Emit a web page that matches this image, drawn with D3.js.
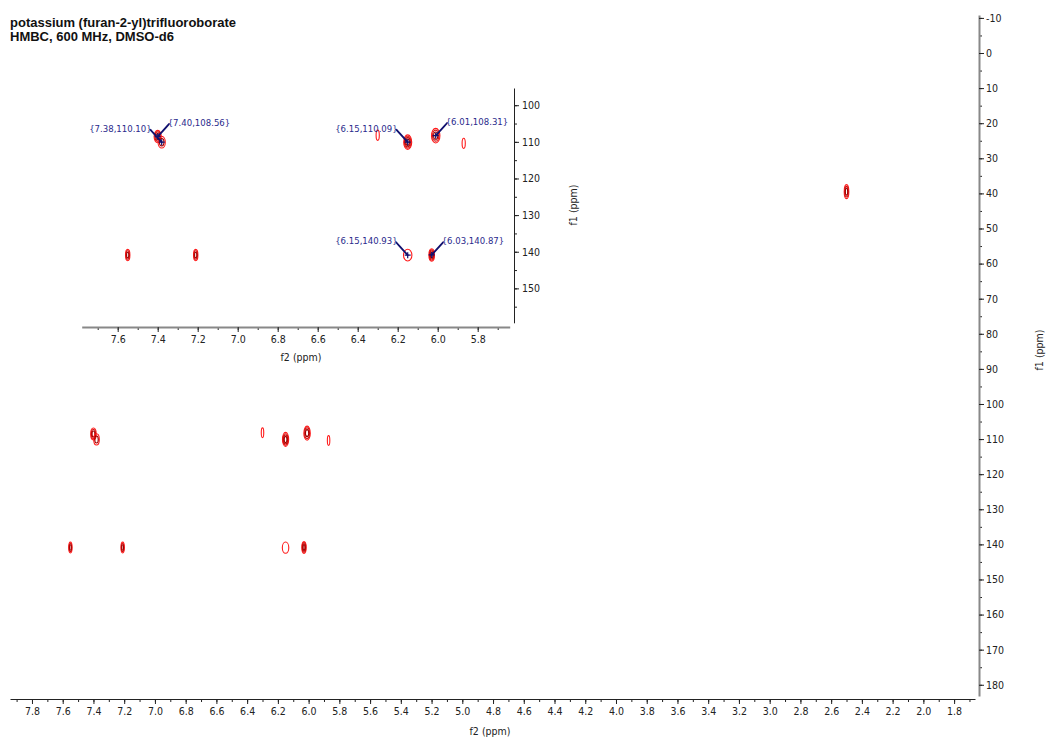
<!DOCTYPE html>
<html>
<head>
<meta charset="utf-8">
<script src="https://cdn.jsdelivr.net/npm/d3@7"></script>
<style>
  body { margin: 0; background: #fff; }
  svg text { font-family: "DejaVu Sans Condensed", "DejaVu Sans", sans-serif; }
</style>
</head>
<body>
<svg id="chart" width="1047" height="738"></svg>
<script>
// ---- spectrum data: HMBC cross peaks (f2 = 1H ppm, f1 = 13C ppm) ----
const peakF2      = [7.40, 7.38, 6.30, 6.15, 6.01, 5.87, 7.55, 7.21, 6.15, 6.03, 2.50];
const peakF1      = [108.56, 110.10, 108.2, 110.09, 108.31, 110.4, 140.9, 140.9, 140.93, 140.87, 39.5];
const peakWidthF2 = [0.036, 0.036, 0.016, 0.040, 0.042, 0.016, 0.022, 0.022, 0.042, 0.028, 0.030];
const peakWidthF1 = [3.4, 3.2, 2.8, 4.0, 4.0, 2.8, 3.1, 3.1, 3.2, 3.4, 4.0];
const peakLevels  = [3, 2, 1, 4, 3, 1, 3, 3, 1, 4, 3];

// picked peaks shown with labels in the expansion
const annotF2   = [7.38, 7.40, 6.15, 6.01, 6.15, 6.03];
const annotF1   = [110.10, 108.56, 110.09, 108.31, 140.93, 140.87];
const annotText = ["{7.38,110.10}", "{7.40,108.56}", "{6.15,110.09}", "{6.01,108.31}", "{6.15,140.93}", "{6.03,140.87}"];

// axis ticks
const mainF2Ticks  = [7.8, 7.6, 7.4, 7.2, 7.0, 6.8, 6.6, 6.4, 6.2, 6.0, 5.8, 5.6, 5.4, 5.2, 5.0, 4.8, 4.6, 4.4, 4.2, 4.0, 3.8, 3.6, 3.4, 3.2, 3.0, 2.8, 2.6, 2.4, 2.2, 2.0, 1.8];
const mainF1Ticks  = [-10, 0, 10, 20, 30, 40, 50, 60, 70, 80, 90, 100, 110, 120, 130, 140, 150, 160, 170, 180];
const insetF2Ticks = [7.6, 7.4, 7.2, 7.0, 6.8, 6.6, 6.4, 6.2, 6.0, 5.8];
const insetF1Ticks = [100, 110, 120, 130, 140, 150];

const titleLines = ["potassium (furan-2-yl)trifluoroborate", "HMBC, 600 MHz, DMSO-d6"];

const svg = d3.select("#chart");
const navy = "#10106e";

// ---- title ----
svg.append("g").selectAll("text").data(titleLines).join("text")
  .attr("x", 10).attr("y", (d, i) => 26.5 + i * 14.5)
  .style("font-family", "'Liberation Sans', Arial, sans-serif")
  .style("font-weight", "bold").style("font-size", "13px").attr("fill", "#111")
  .text(d => d);

// ---- scales ----
const xMain = d3.scaleLinear().domain([7.943, 1.664]).range([10, 975]);
const yMain = d3.scaleLinear().domain([-10.83, 183.2]).range([15, 696]);
const xIn   = d3.scaleLinear().domain([7.78, 5.64]).range([81.7, 509.7]);
const yIn   = d3.scaleLinear().domain([95.3, 159.4]).range([88, 322.8]);

function minorTicks(scale, step) {
  const [a, b] = d3.extent(scale.domain());
  const out = [];
  for (let v = Math.ceil(a / step) * step; v <= b + 1e-9; v += step) out.push(+v.toFixed(4));
  return out;
}

function styleAxis(g, lineColor, lineWidth) {
  g.select(".domain").attr("stroke", lineColor).attr("stroke-width", lineWidth);
  g.selectAll(".tick line").attr("stroke", "#222");
  g.selectAll(".tick text").attr("fill", "#222").style("font-size", "10.5px");
}

// ---- contours ----
const peaks = peakF2.map((f2, i) => ({ f2, f1: peakF1[i], w: peakWidthF2[i], h: peakWidthF1[i], n: peakLevels[i] }));
const ringColor = d3.scaleLinear().domain([0, 1]).range(["#ff1a1a", "#a00000"]);

function drawPeaks(g, xs, ys) {
  peaks.forEach(p => {
    const cx = xs(p.f2), cy = ys(p.f1);
    const rx = Math.abs(xs(p.f2 + p.w / 2) - cx);
    const ry = Math.abs(ys(p.f1 + p.h / 2) - cy);
    for (let k = 0; k < p.n; k++) {
      const s = 1 - k / p.n * 0.75;
      g.append("ellipse")
        .attr("cx", cx).attr("cy", cy)
        .attr("rx", Math.max(0.6, rx * s)).attr("ry", ry * s)
        .attr("fill", "none")
        .attr("stroke", ringColor(p.n > 1 ? k / (p.n - 1) : 0))
        .attr("stroke-width", 1.1);
    }
  });
}

// ---- main spectrum ----
const mainPeaks = svg.append("g");
svg.append("clipPath").attr("id", "mainClip").append("rect")
  .attr("x", 10).attr("y", 15).attr("width", 965).attr("height", 681);
mainPeaks.attr("clip-path", "url(#mainClip)");
drawPeaks(mainPeaks, xMain, yMain);

// bottom f2 axis
const gxMinor = svg.append("g").attr("transform", "translate(0,699)")
  .call(d3.axisBottom(xMain).tickValues(minorTicks(xMain, 0.1)).tickSize(3).tickFormat(""));
gxMinor.select(".domain").remove();
gxMinor.selectAll("line").attr("stroke", "#222");
const gx = svg.append("g").attr("transform", "translate(0,699)")
  .call(d3.axisBottom(xMain).tickValues(mainF2Ticks).tickSize(5).tickSizeOuter(0).tickPadding(4).tickFormat(d3.format(".1f")));
styleAxis(gx, "#222", 1);
svg.append("text").attr("x", 490).attr("y", 735).attr("text-anchor", "middle")
  .style("font-size", "10.5px").attr("fill", "#222").text("f2 (ppm)");

// right f1 axis
const gyMinor = svg.append("g").attr("transform", "translate(979,0)")
  .call(d3.axisRight(yMain).tickValues(minorTicks(yMain, 5)).tickSize(3).tickFormat(""));
gyMinor.select(".domain").remove();
gyMinor.selectAll("line").attr("stroke", "#222");
const gy = svg.append("g").attr("transform", "translate(979,0)")
  .call(d3.axisRight(yMain).tickValues(mainF1Ticks).tickSize(5).tickSizeOuter(0).tickPadding(2).tickFormat(d3.format("d")));
styleAxis(gy, "#888", 2);
gy.selectAll(".tick text").text(d => d < 0 ? "-" + Math.abs(d) : d);
svg.append("text").attr("transform", "translate(1043,350) rotate(-90)").attr("text-anchor", "middle")
  .style("font-size", "10.5px").attr("fill", "#222").text("f1 (ppm)");

// ---- expansion (inset) ----
const inset = svg.append("g");
svg.append("clipPath").attr("id", "insetClip").append("rect")
  .attr("x", 81.7).attr("y", 88).attr("width", 428).attr("height", 234.8);
const insetPeaks = inset.append("g").attr("clip-path", "url(#insetClip)");
drawPeaks(insetPeaks, xIn, yIn);

const ixMinor = inset.append("g").attr("transform", "translate(0,327)")
  .call(d3.axisBottom(xIn).tickValues(minorTicks(xIn, 0.1)).tickSize(3).tickFormat(""));
ixMinor.select(".domain").remove();
ixMinor.selectAll("line").attr("stroke", "#222");
const ix = inset.append("g").attr("transform", "translate(0,327)")
  .call(d3.axisBottom(xIn).tickValues(insetF2Ticks).tickSize(5).tickSizeOuter(0).tickPadding(4).tickFormat(d3.format(".1f")));
styleAxis(ix, "#888", 2);
inset.append("text").attr("x", 301).attr("y", 361).attr("text-anchor", "middle")
  .style("font-size", "10.5px").attr("fill", "#222").text("f2 (ppm)");

const iyMinor = inset.append("g").attr("transform", "translate(514,0)")
  .call(d3.axisRight(yIn).tickValues(minorTicks(yIn, 5)).tickSize(3).tickFormat(""));
iyMinor.select(".domain").remove();
iyMinor.selectAll("line").attr("stroke", "#222");
const iy = inset.append("g").attr("transform", "translate(514,0)")
  .call(d3.axisRight(yIn).tickValues(insetF1Ticks).tickSize(5).tickSizeOuter(0).tickPadding(3).tickFormat(d3.format("d")));
styleAxis(iy, "#222", 1);
inset.append("text").attr("transform", "translate(577,205) rotate(-90)").attr("text-anchor", "middle")
  .style("font-size", "10.5px").attr("fill", "#222").text("f1 (ppm)");

// ---- peak labels with leader arrows ----
const annots = annotF2.map((f2, i) => ({ f2, f1: annotF1[i], text: annotText[i] }));
// labels alternate sides so neighbouring picks do not collide
annots.forEach((a, i) => {
  const px = xIn(a.f2), py = yIn(a.f1);
  const side = (i % 2 === 0) ? -1 : 1;
  const g = inset.append("g");
  const sx = px + side * 10, sy = py - 11;
  g.append("path")
    .attr("d", `M${sx + side * 1.2},${sy - 1.4} L${px},${py} L${sx - side * 1.6},${sy + 1.8} Z`)
    .attr("fill", navy).attr("stroke", navy).attr("stroke-width", 1.8).attr("stroke-linejoin", "round");
  g.append("path")
    .attr("d", `M${px - 3},${py} H${px + 3} M${px},${py - 3} V${py + 3}`)
    .attr("stroke", navy).attr("stroke-width", 1.2);
  g.append("text")
    .attr("x", px + side * 10).attr("y", py - 14).attr("dy", "0.35em")
    .attr("text-anchor", side < 0 ? "end" : "start")
    .style("font-size", "9.5px").attr("fill", "#2a2a8c")
    .text(a.text);
});
</script>
</body>
</html>
